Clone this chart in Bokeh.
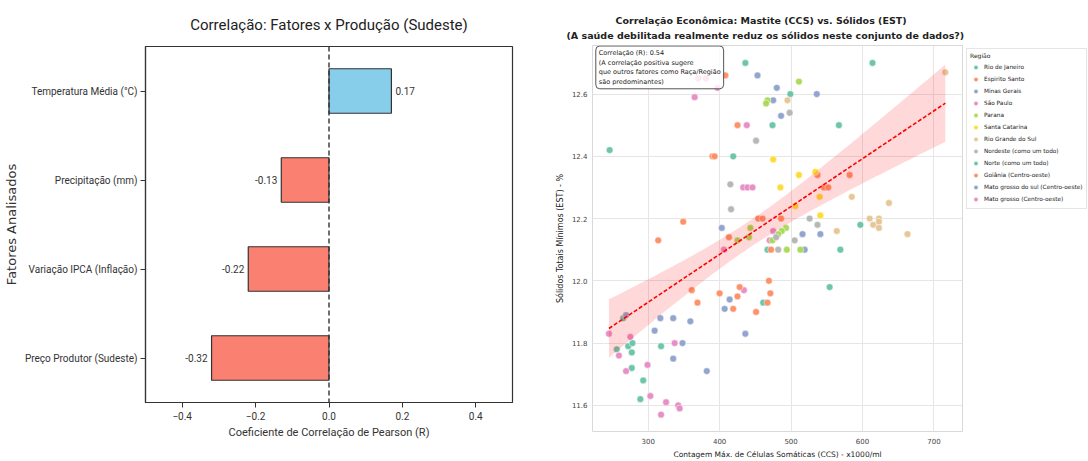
import numpy as np
from bokeh.plotting import figure
from bokeh.layouts import row
from bokeh.models import (FactorRange, Range1d, Span, FixedTicker, SingleIntervalTicker,
                          PrintfTickFormatter, Label, Legend, LegendItem, ColumnDataSource, Title)
from bokeh.core.properties import value
from bokeh.embed import file_html
from bokeh.resources import INLINE

# ---------------- Left chart data ----------------
FACTORS = ["Temperatura Média (°C)", "Precipitação (mm)",
           "Variação IPCA (Inflação)", "Preço Produtor (Sudeste)"]
CORR = [0.17, -0.13, -0.22, -0.32]
X_TICKS = [-0.4, -0.2, 0.0, 0.2, 0.4]
X_TICK_LABELS = ["−0.4", "−0.2", "0.0", "0.2", "0.4"]

# ---------------- Right chart data (CCS x1000/ml, EST %) ----------------
RJ_CCS = [436, 614, 499, 474, 567, 246, 419, 597, 467, 569, 461]
RJ_EST = [12.70, 12.70, 12.60, 12.50, 12.50, 12.42, 12.40, 12.18, 12.10, 12.10, 11.93]
ES_CCS = [408, 425, 390, 393, 537, 582, 546, 552, 349, 454, 460, 486, 314]
ES_EST = [12.66, 12.50, 12.40, 12.40, 12.34, 12.34, 12.30, 12.30, 12.19, 12.20, 12.20, 12.20, 12.13]
MG_CCS = [453, 480, 536, 475, 486, 403, 516, 541, 519, 414]
MG_EST = [12.66, 12.62, 12.60, 12.58, 12.53, 12.17, 12.15, 12.15, 12.10, 11.94]
SP_CCS = [370, 381, 397, 365, 438, 433, 439, 446, 475, 470, 406, 434]
SP_EST = [12.65, 12.65, 12.62, 12.59, 12.50, 12.30, 12.30, 12.30, 12.16, 12.13, 12.10, 11.97]
PR_CCS = [511, 467, 465, 443, 493, 487, 482, 425, 441, 474, 494, 513]
PR_EST = [12.64, 12.58, 12.57, 12.17, 12.17, 12.16, 12.15, 12.13, 12.14, 12.13, 12.10, 12.10]
SC_CCS = [475, 511, 534, 485, 540, 506, 541]
SC_EST = [12.39, 12.34, 12.35, 12.30, 12.27, 12.24, 12.21]
RS_CCS = [716, 495, 585, 637, 610, 623, 615, 623, 623, 564, 663]
RS_EST = [12.67, 12.58, 12.27, 12.25, 12.20, 12.20, 12.18, 12.19, 12.17, 12.16, 12.15]
NE_CCS = [498, 451, 415, 416, 526, 537, 479, 505, 482]
NE_EST = [12.54, 12.45, 12.31, 12.23, 12.20, 12.18, 12.14, 12.13, 12.10]
NO_CCS = [265, 272, 278, 256, 277, 318, 277, 293, 289, 554]
NO_EST = [11.88, 11.79, 11.80, 11.78, 11.77, 11.79, 11.72, 11.68, 11.62, 11.98]
GO_CCS = [413, 472, 469, 361, 400, 428, 425, 471, 369, 419, 467, 451]
GO_EST = [12.14, 12.10, 12.00, 11.97, 11.96, 11.98, 11.95, 11.96, 11.93, 11.91, 11.93, 11.90]
MS_CCS = [407, 436, 269, 317, 335, 359, 309, 348, 335, 382]
MS_EST = [11.91, 11.83, 11.89, 11.88, 11.88, 11.87, 11.84, 11.80, 11.75, 11.71]
MT_CCS = [245, 275, 259, 337, 299, 269, 303, 325, 342, 344, 318]
MT_EST = [11.83, 11.82, 11.76, 11.80, 11.73, 11.71, 11.63, 11.61, 11.60, 11.59, 11.57]

REGIONS = ["Rio de Janeiro", "Espirito Santo", "Minas Gerais", "São Paulo", "Parana",
           "Santa Catarina", "Rio Grande do Sul", "Nordeste (como um todo)",
           "Norte (como um todo)", "Goiânia (Centro-oeste)",
           "Mato grosso do sul (Centro-oeste)", "Mato grosso (Centro-oeste)"]
REGION_X = [RJ_CCS, ES_CCS, MG_CCS, SP_CCS, PR_CCS, SC_CCS, RS_CCS, NE_CCS, NO_CCS, GO_CCS, MS_CCS, MT_CCS]
REGION_Y = [RJ_EST, ES_EST, MG_EST, SP_EST, PR_EST, SC_EST, RS_EST, NE_EST, NO_EST, GO_EST, MS_EST, MT_EST]
SET2 = ["#66c2a5", "#fc8d62", "#8da0cb", "#e78ac3", "#a6d854", "#ffd92f", "#e5c494", "#b3b3b3"]
TITLE_1 = "Correlação Econômica: Mastite (CCS) vs. Sólidos (EST)"
TITLE_2 = "(A saúde debilitada realmente reduz os sólidos neste conjunto de dados?)"
CORR_TEXT = "Correlação (R): 0.54\n(A correlação positiva sugere\nque outros fatores como Raça/Região\nsão predominantes)"

# ================= Left figure =================
LF = "Roboto"
p1 = figure(width=540, height=461, y_range=FactorRange(factors=list(reversed(FACTORS))),
            x_range=Range1d(-0.5, 0.5), output_backend="svg", toolbar_location=None,
            min_border_left=144, min_border_right=28, min_border_top=46, min_border_bottom=59,
            title="Correlação: Fatores x Produção (Sudeste)")
p1.frame_align = False
p1.title.align = "center"
p1.title.text_font = LF
p1.title.text_font_size = "15px"
p1.title.text_font_style = "normal"
p1.title.text_color = "#222222"
p1.title.standoff = 25

colors = ["#87CEEB" if v > 0 else "#FA8072" for v in CORR]
src = ColumnDataSource(dict(f=FACTORS, v=CORR, c=colors,
                            t=[f"{v:.2f}" for v in CORR],
                            dx=[4 if v > 0 else -4 for v in CORR],
                            al=["left" if v > 0 else "right" for v in CORR]))
p1.hbar(y="f", right="v", left=0, height=0.5, fill_color="c", line_color="#333333",
        line_width=1.2, source=src)
p1.add_layout(Span(location=0, dimension="height", line_color="#333333",
                   line_dash="5 3", line_width=1.4))
p1.text(x="v", y="f", text="t", x_offset="dx", text_align="al", text_baseline="middle",
        text_font=value(LF), text_font_size="10px", text_color="#333333", source=src)

p1.grid.visible = False
p1.outline_line_color = "#333333"
p1.outline_line_width = 1.2
p1.xaxis.ticker = FixedTicker(ticks=X_TICKS)
p1.xaxis.major_label_overrides = dict(zip(X_TICKS, X_TICK_LABELS))
p1.xaxis.axis_label = "Coeficiente de Correlação de Pearson (R)"
p1.yaxis.axis_label = "Fatores Analisados"
for ax in (p1.xaxis[0], p1.yaxis[0]):
    ax.axis_line_color = "#333333"
    ax.axis_line_width = 1.2
    ax.major_tick_line_color = "#333333"
    ax.major_tick_out = 5
    ax.major_tick_in = 0
    ax.minor_tick_line_color = None
    ax.major_label_text_font = LF
    ax.major_label_text_font_size = "10px"
    ax.major_label_text_color = "#333333"
    ax.axis_label_text_font_style = "normal"
    ax.axis_label_text_color = "#333333"
p1.xaxis.major_label_standoff = 4
p1.yaxis.major_label_standoff = 3
p1.xaxis.axis_label_text_font = LF
p1.xaxis.axis_label_text_font_size = "11px"
p1.xaxis.axis_label_standoff = 3
p1.yaxis.axis_label_text_font = "DejaVu Sans"
p1.yaxis.axis_label_text_font_size = "13px"
p1.yaxis.axis_label_standoff = 3

# ================= Right figure =================
RF = "DejaVu Sans"
X0, X1 = 222, 740
Y0, Y1 = 11.516, 12.756
p2 = figure(width=426, height=461, x_range=Range1d(X0, X1), y_range=Range1d(Y0, Y1),
            output_backend="svg", toolbar_location=None, title=None,
            min_border_left=52, min_border_right=4, min_border_top=45, min_border_bottom=24)
p2.frame_align = False
for txt, so, off in ((TITLE_2, 9, -26), (TITLE_1, -5, 23)):
    p2.add_layout(Title(text=txt, align="left", offset=off, text_font=RF,
                        text_font_size="9.5px", text_font_style="bold",
                        text_color="#222222", standoff=so), "above")

for i, (xs_, ys_) in enumerate(zip(REGION_X, REGION_Y)):
    p2.scatter(xs_, ys_, size=6.8, fill_color=SET2[i % 8], fill_alpha=0.95,
               line_color="white", line_width=0.5)

allx = np.concatenate([np.array(v, float) for v in REGION_X])
ally = np.concatenate([np.array(v, float) for v in REGION_Y])
n = len(allx)
b, a = np.polyfit(allx, ally, 1)
xs = np.linspace(allx.min(), allx.max(), 100)
fit = a + b * xs
resid = ally - (a + b * allx)
s = np.sqrt(np.sum(resid ** 2) / (n - 2))
xm = allx.mean()
se = s * np.sqrt(1 / n + (xs - xm) ** 2 / np.sum((allx - xm) ** 2))
p2.varea(x=xs, y1=fit - 1.96 * se, y2=fit + 1.96 * se, fill_color="red", fill_alpha=0.15)
p2.line(xs, fit, line_color="red", line_dash="4 2", line_width=1.6)

p2.xaxis.ticker = SingleIntervalTicker(interval=100)
p2.yaxis.ticker = SingleIntervalTicker(interval=0.2)
p2.yaxis.formatter = PrintfTickFormatter(format="%.1f")
p2.grid.grid_line_color = "#e6e6e6"
p2.grid.grid_line_width = 1
p2.outline_line_color = "#d9d9d9"
p2.xaxis.axis_label = "Contagem Máx. de Células Somáticas (CCS) - x1000/ml"
p2.yaxis.axis_label = "Sólidos Totais Mínimos (EST) - %"
for ax in (p2.xaxis[0], p2.yaxis[0]):
    ax.axis_line_color = None
    ax.major_tick_line_color = None
    ax.major_tick_out = 0
    ax.major_tick_in = 0
    ax.minor_tick_line_color = None
    ax.minor_tick_out = 0
    ax.major_label_text_font = RF
    ax.major_label_text_font_size = "7px"
    ax.major_label_text_color = "#444444"
    ax.axis_label_text_font = RF
    ax.axis_label_text_font_style = "normal"
    ax.axis_label_text_color = "#222222"
p2.xaxis.major_label_standoff = 6
p2.yaxis.major_label_standoff = 5
p2.xaxis.axis_label_standoff = 3
p2.yaxis.axis_label_standoff = 4
p2.xaxis.axis_label_text_font_size = "7.5px"
p2.yaxis.axis_label_text_font_size = "8px"

ann = Label(x=X0 + 3.3 * (X1 - X0) / 370, y=Y1 - 0.5 * (Y1 - Y0) / 392, text=CORR_TEXT,
            text_baseline="top", text_align="left", text_font=RF, text_font_size="6.5px",
            text_color="#222222", text_line_height=1.2,
            background_fill_color="white", background_fill_alpha=0.8,
            border_line_color="#555555", border_line_width=1, padding=3, border_radius=4)
p2.add_layout(ann)

# ================= Legend panel (own small figure) =================
# legend proxies: the same region data, drawn outside this panel's visible range
p3 = figure(width=122, height=461, x_axis_type=None, y_axis_type=None,
            x_range=Range1d(0, 1), y_range=Range1d(0, 1),
            output_backend="svg", toolbar_location=None, min_border=0)
p3.frame_align = False
p3.outline_line_color = None
items = []
for i, (name, xs_, ys_) in enumerate(zip(REGIONS, REGION_X, REGION_Y)):
    r = p3.scatter(xs_, ys_, size=6.5, fill_color=SET2[i % 8], fill_alpha=0.95,
                   line_color="white", line_width=0.5)
    items.append(LegendItem(label=name, renderers=[r]))
legend = Legend(items=items, location=(0, 252), title="Região",
                title_text_font=RF, title_text_font_size="6px", title_text_font_style="normal",
                title_text_color="#222222", title_standoff=2,
                label_text_font=RF, label_text_font_size="5.8px", label_text_color="#222222",
                label_height=12, glyph_height=12, glyph_width=11, label_standoff=3,
                spacing=0, padding=3, margin=0,
                border_line_color="#cccccc", border_line_width=1,
                background_fill_color="white", background_fill_alpha=1.0)
p3.add_layout(legend, "center")

layout = row(p1, p2, p3)
open("out.html", "w").write(file_html(layout, INLINE))
